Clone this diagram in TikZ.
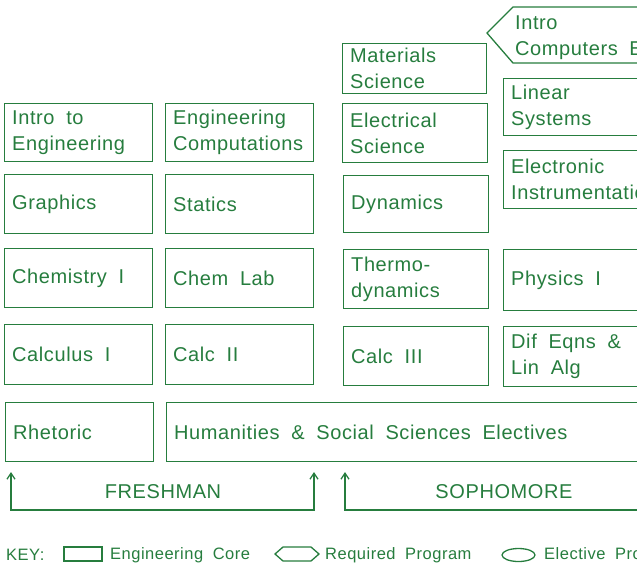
\documentclass[tikz,border=0pt]{standalone}
\usepackage{fontspec}
\setmainfont[WordSpace=1.9,LetterSpace=3]{Liberation Sans}
\usetikzlibrary{arrows.meta}
\definecolor{ink}{RGB}{38,125,62}
\tikzset{
  course/.style={draw=ink, line width=1.3pt, rectangle, inner sep=0pt, anchor=north west},
  ctext/.style={text=ink, inner sep=0pt, anchor=west, align=left, font=\fontsize{20}{26}\selectfont},
  yearlbl/.style={text=ink, inner sep=0pt, font=\fontsize{20}{24}\selectfont},
  keytext/.style={text=ink, inner sep=0pt, anchor=west, font=\fontsize{16.5}{20}\selectfont},
  outline/.style={draw=ink, line width=1.3pt},
  bracket/.style={draw=ink, line width=1.3pt},
  tip/.style={arrows={Straight Barb[length=6pt,width=8pt]-Straight Barb[length=6pt,width=8pt]}},
}
% name, left, top, width, height, label
\newcommand\coursebox[6]{%
  \node[course, minimum width=#4pt, minimum height=#5pt] (#1) at (#2,#3) {};
  \node[ctext] (#1-label) at ([xshift=8pt]#1.west) {#6};}
\begin{document}
\begin{tikzpicture}[x=1pt,y=-1pt]
\useasboundingbox (0,0) rectangle (637,566);
\clip (0,0) rectangle (637,566);

% first column
\coursebox{intro}{4}{103}{148}{58}{Intro to\\Engineering}
\coursebox{graphics}{4}{174}{148}{59}{Graphics}
\coursebox{chem}{4}{248}{148}{59}{Chemistry I}
\coursebox{calcA}{4}{324}{148}{60}{Calculus I}
\coursebox{rhetoric}{5}{402}{148}{59}{Rhetoric}

% second column
\coursebox{engcomp}{165}{103}{148}{58}{Engineering\\Computations}
\coursebox{statics}{165}{174}{148}{59}{Statics}
\coursebox{chemlab}{165}{248}{148}{59}{Chem Lab}
\coursebox{calcB}{165}{324}{148}{60}{Calc II}
\coursebox{human}{166}{402}{500}{59}{Humanities \& Social Sciences Electives}

% third column
\coursebox{matsci}{342}{43}{144}{50}{\baselineskip=22pt Materials\\Science}
\coursebox{elecsci}{342}{103}{145}{59}{Electrical\\Science}
\coursebox{dynamics}{343}{175}{145}{57}{Dynamics}
\coursebox{thermo}{343}{249}{145}{59}{Thermo-\\dynamics}
\coursebox{calcC}{343}{326}{145}{59}{Calc III}

% fourth column
\draw[outline] (487,33) -- (513,7) -- (680,7) -- (680,63) -- (513,63) -- cycle;
\node[ctext] (introcomp) at (515,38) {\baselineskip=28pt Intro\\Computers EE};
\coursebox{linsys}{503}{78}{160}{57}{Linear\\Systems}
\coursebox{instr}{503}{150}{160}{58}{\baselineskip=24pt Electronic\\Instrumentation}
\coursebox{physics}{503}{249}{160}{61}{Physics I}
\coursebox{difeq}{503}{326}{160}{60}{\baselineskip=25pt Dif Eqns \&\\Lin Alg}

% year brackets
\coordinate (fr-l) at (11,472);
\coordinate (fr-bl) at (11,510);
\coordinate (fr-br) at (314,510);
\coordinate (fr-r) at (314,472);
\draw[bracket, tip] (fr-l) -- (fr-bl) -- (fr-br) -- (fr-r);
\node[yearlbl] (freshman) at (163,492) {FRESHMAN};

\coordinate (so-l) at (345,472);
\coordinate (so-bl) at (345,510);
\coordinate (so-br) at (680,510);
\draw[bracket, arrows={Straight Barb[length=6pt,width=8pt]-}] (so-l) -- (so-bl) -- (so-br);
\node[yearlbl] (sophomore) at (504,492) {SOPHOMORE};

% key
\node[keytext] (key) at (6,555) {KEY:};
\draw[outline] (64,547) rectangle (102,561);
\node[keytext] (keycore) at (110,555) {Engineering Core};
\draw[outline] (275,554) -- (283,547) -- (311,547) -- (319,554) -- (311,561) -- (283,561) -- cycle;
\node[keytext] (keyreq) at (325,555) {Required Program};
\draw[outline] (518.5,555) ellipse [x radius=16.5pt, y radius=6.5pt];
\node[keytext] (keyelec) at (544,555) {Elective Program};
\end{tikzpicture}
\end{document}
